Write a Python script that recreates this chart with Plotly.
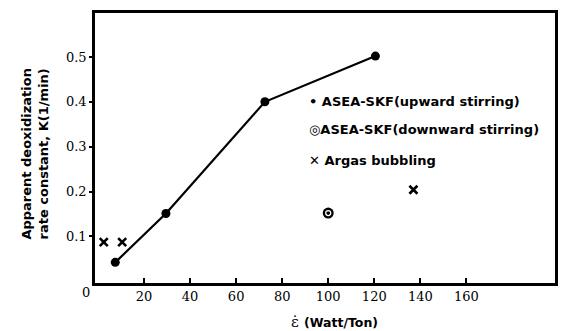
import plotly.graph_objects as go

# Apparent deoxidization rate constant vs. stirring energy
upward_x = [7.5, 29.5, 72.5, 120.5]
upward_k = [0.042, 0.151, 0.400, 0.502]

downward_x = [100]
downward_k = [0.152]

argas_x = [2.5, 10.5, 137]
argas_k = [0.087, 0.087, 0.204]

x_ticks = [20, 40, 60, 80, 100, 120, 140, 160]
y_ticks = [0.1, 0.2, 0.3, 0.4, 0.5]
y_tick_text = ["0.1", "0.2", "0.3", "0.4", "0.5"]

legend_items = [
    "• ASEA-SKF(upward stirring)",
    "◎ASEA-SKF(downward stirring)",
    "✕ Argas bubbling",
]

serif = "DejaVu Serif"
sans = "DejaVu Sans"

fig = go.Figure()

fig.add_trace(go.Scatter(
    x=upward_x, y=upward_k, mode="lines+markers",
    line=dict(color="black", width=2.2),
    marker=dict(symbol="circle", size=9, color="black"),
    showlegend=False,
))

# downward stirring: black disk with a light ring inside
fig.add_trace(go.Scatter(
    x=downward_x, y=downward_k, mode="markers",
    marker=dict(symbol="circle", size=11, color="black"),
    showlegend=False,
))
fig.add_trace(go.Scatter(
    x=downward_x, y=downward_k, mode="markers",
    marker=dict(symbol="circle-open", size=5, color="white", line=dict(width=1.3, color="white")),
    showlegend=False,
))

fig.add_trace(go.Scatter(
    x=argas_x, y=argas_k, mode="markers",
    marker=dict(symbol="x-thin", size=8, color="black", line=dict(width=2.6, color="black")),
    showlegend=False,
))

# legend written as text block
legend_y = [0.674, 0.567, 0.452]
for txt, yy in zip(legend_items, legend_y):
    fig.add_annotation(
        x=0.46, y=yy, xref="paper", yref="paper", xanchor="left", yanchor="middle",
        text="<b>" + txt + "</b>", showarrow=False,
        font=dict(family=sans, size=13, color="black"),
    )

# origin label
fig.add_annotation(
    x=-0.019, y=-0.037, xref="paper", yref="paper", xanchor="center", yanchor="middle",
    text="0", showarrow=False, font=dict(family=serif, size=13, color="black"),
)

# y-axis title
fig.add_annotation(
    x=-0.13, y=0.48, xref="paper", yref="paper", xanchor="center", yanchor="middle",
    text="<b>Apparent deoxidization<br>rate constant, K(1/min)</b>", textangle=-90,
    showarrow=False, font=dict(family=sans, size=13, color="black"),
)

# x-axis title
fig.add_annotation(
    x=0.435, y=-0.145, xref="paper", yref="paper", xanchor="center", yanchor="middle",
    text="ε̇", showarrow=False, font=dict(family=serif, size=15, color="black"),
)
fig.add_annotation(
    x=0.535, y=-0.145, xref="paper", yref="paper", xanchor="center", yanchor="middle",
    text="<b>(Watt/Ton)</b>", showarrow=False, font=dict(family=sans, size=12.5, color="black"),
)

fig.update_xaxes(
    range=[-1.3, 198.5], tickvals=x_ticks, ticktext=[str(v) for v in x_ticks],
    ticks="inside", ticklen=5, tickwidth=1.5, tickcolor="black",
    showline=True, linecolor="black", linewidth=2.5, mirror=True,
    showgrid=False, zeroline=False,
    tickfont=dict(family=serif, size=13, color="black"),
)
fig.update_yaxes(
    range=[-0.004, 0.598], tickvals=y_ticks, ticktext=y_tick_text,
    ticks="outside", ticklen=3, tickwidth=1.5, tickcolor="black",
    showline=True, linecolor="black", linewidth=2.5, mirror=True,
    showgrid=False, zeroline=False,
    tickfont=dict(family=serif, size=13, color="black"),
)

fig.update_layout(
    width=565, height=331,
    margin=dict(l=95, r=7, t=13, b=48),
    paper_bgcolor="white", plot_bgcolor="white",
)

fig.write_html("out.html")
